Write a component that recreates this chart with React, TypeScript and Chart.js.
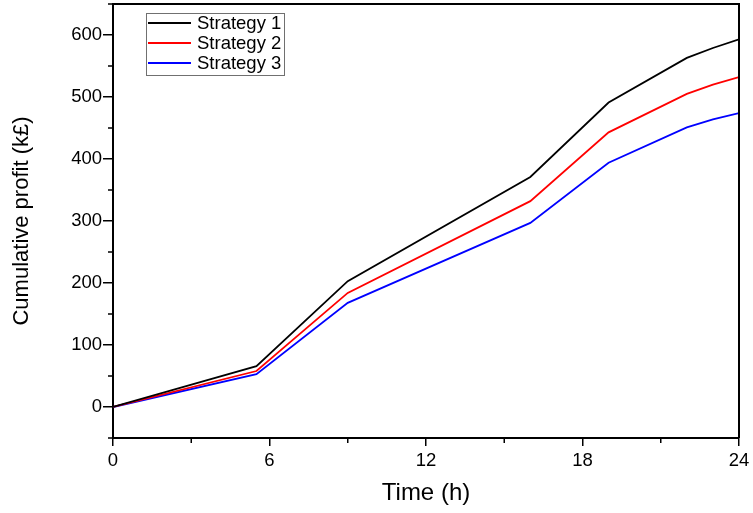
import React, { useEffect, useRef } from "react";
import { Chart, registerables } from "chart.js";

Chart.register(...registerables);

const hours = [0, 5.5, 9, 16, 19, 22, 23, 24];
const strategy1 = [0, 66, 203, 371, 491, 563, 579, 593];
const strategy2 = [0, 58, 184, 332, 443, 505, 520, 532];
const strategy3 = [0, 53, 168, 297, 394, 451, 464, 474];
const seriesNames = ["Strategy 1", "Strategy 2", "Strategy 3"];
const seriesColors = ["#000000", "#ff0000", "#0000ff"];
const xMajorTicks = [0, 6, 12, 18, 24];
const xMinorTicks = [3, 9, 15, 21];
const yMajorTicks = [0, 100, 200, 300, 400, 500, 600];
const yMinorTicks = [-50, 50, 150, 250, 350, 450, 550, 650];

const FONT = "'Liberation Sans', Arial, sans-serif";

const framePlugin = {
  id: "framePlugin",
  afterDraw(chart: any) {
    const ctx = chart.ctx;
    const { left, right, top, bottom } = chart.chartArea;
    const xs = chart.scales.x;
    const ys = chart.scales.y;
    ctx.save();
    ctx.strokeStyle = "#000";
    ctx.lineWidth = 2;
    ctx.beginPath();
    ctx.moveTo(left, top);
    ctx.lineTo(right, top);
    ctx.lineTo(right, bottom);
    ctx.stroke();
    ctx.lineWidth = 1.5;
    ctx.beginPath();
    xMinorTicks.forEach((v) => {
      const px = xs.getPixelForValue(v);
      ctx.moveTo(px, bottom);
      ctx.lineTo(px, bottom + 5);
    });
    yMinorTicks.forEach((v) => {
      const py = ys.getPixelForValue(v);
      ctx.moveTo(left, py);
      ctx.lineTo(left - 5, py);
    });
    ctx.stroke();

    // legend
    const bx = 146, by = 13, bw = 138, bh = 62;
    ctx.strokeStyle = "#707070";
    ctx.lineWidth = 1;
    ctx.strokeRect(bx + 0.5, by + 0.5, bw, bh);
    ctx.font = `18.5px ${FONT}`;
    ctx.textBaseline = "middle";
    ctx.fillStyle = "#000";
    chart.data.datasets.forEach((ds: any, i: number) => {
      const cy = by + 10 + i * 20;
      ctx.strokeStyle = ds.borderColor;
      ctx.lineWidth = 1.8;
      ctx.beginPath();
      ctx.moveTo(bx + 2, cy);
      ctx.lineTo(bx + 45, cy);
      ctx.stroke();
      ctx.fillText(ds.label, bx + 51, cy + 1);
    });
    ctx.restore();
  },
};

export default function App() {
  const ref = useRef<HTMLCanvasElement>(null);
  useEffect(() => {
    if (!ref.current) return;
    const all = [strategy1, strategy2, strategy3];
    const chart = new Chart(ref.current, {
      type: "line",
      data: {
        datasets: all.map((s, i) => ({
          label: seriesNames[i],
          data: hours.map((h, j) => ({ x: h, y: s[j] })),
          borderColor: seriesColors[i],
          backgroundColor: seriesColors[i],
          borderWidth: 1.8,
          pointRadius: 0,
          tension: 0,
        })),
      },
      options: {
        animation: false,
        responsive: false,
        maintainAspectRatio: false,
        layout: { padding: { top: 4, right: 14, left: 0, bottom: 0 } },
        plugins: { legend: { display: false }, tooltip: { enabled: false } },
        scales: {
          x: {
            type: "linear",
            min: 0,
            max: 24,
            afterBuildTicks: (s: any) => {
              s.ticks = xMajorTicks.map((v) => ({ value: v }));
            },
            afterFit: (s: any) => {
              s.height = 75;
              s.paddingLeft = 0;
              s.paddingRight = 0;
            },
            grid: {
              drawOnChartArea: false,
              drawTicks: true,
              tickLength: 8,
              color: "#000",
              lineWidth: 1.5,
            },
            border: { display: true, color: "#000", width: 2 },
            ticks: {
              color: "#000",
              font: { family: FONT, size: 18.5 },
              padding: 4,
              maxRotation: 0,
              autoSkip: false,
            },
            title: {
              display: true,
              text: "Time (h)",
              color: "#000",
              font: { family: FONT, size: 24 },
              padding: { top: 0, bottom: 5 },
            },
          },
          y: {
            type: "linear",
            min: -50,
            max: 650,
            afterBuildTicks: (s: any) => {
              s.ticks = yMajorTicks.map((v) => ({ value: v }));
            },
            afterFit: (s: any) => {
              s.width = 113;
              s.paddingTop = 0;
              s.paddingBottom = 0;
            },
            grid: {
              drawOnChartArea: false,
              drawTicks: true,
              tickLength: 10,
              color: "#000",
              lineWidth: 1.5,
            },
            border: { display: true, color: "#000", width: 2 },
            ticks: {
              color: "#000",
              font: { family: FONT, size: 18.5 },
              padding: 1,
              autoSkip: false,
            },
            title: {
              display: true,
              text: "Cumulative profit (k£)",
              color: "#000",
              font: { family: FONT, size: 22 },
              padding: { top: 9, bottom: 0 },
            },
          },
        },
      },
      plugins: [framePlugin],
    });
    return () => chart.destroy();
  }, []);
  return (
    <div style={{ position: "absolute", left: 0, top: 0, width: 753, height: 513, background: "#fff" }}>
      <canvas ref={ref} width={753} height={513} style={{ width: 753, height: 513 }} />
    </div>
  );
}
